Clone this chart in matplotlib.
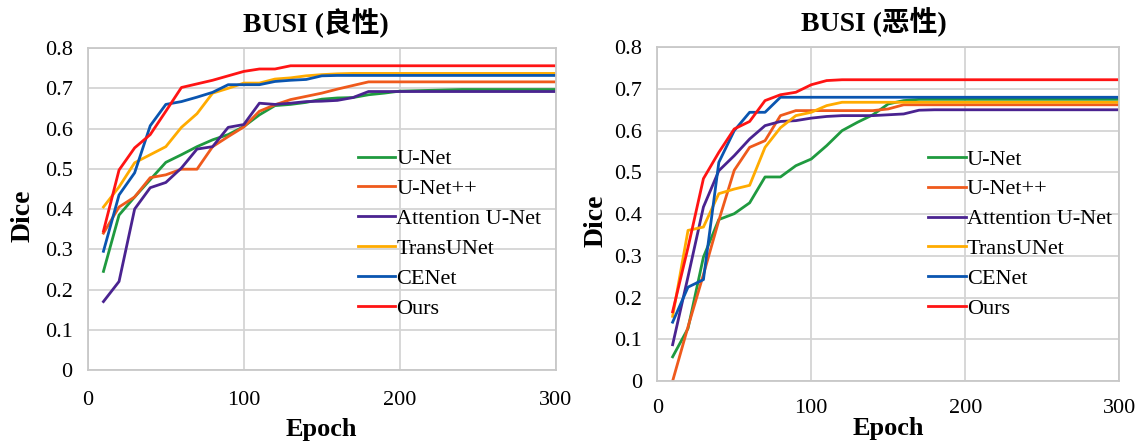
#Plot the Dice curves of the six models on BUSI benign and malignant data

import numpy as np
import matplotlib
matplotlib.use('Agg')
import matplotlib.pyplot as plt

plt.rcParams['font.family'] = ['Liberation Serif', 'Noto Sans CJK SC']

epochs = np.arange(10, 301, 10)
models = ['U-Net', 'U-Net++', 'Attention U-Net', 'TransUNet', 'CENet', 'Ours']
colors = ['#1f9a3f', '#ef5a1c', '#4a2390', '#ffab00', '#0a55b0', '#ff1414']
titles = ['BUSI (良性)', 'BUSI (恶性)']

# benign
benign_unet = [0.245, 0.385, 0.43, 0.473, 0.516, 0.535, 0.555, 0.572, 0.585, 0.605,
               0.634, 0.657, 0.66, 0.665, 0.673, 0.676, 0.677, 0.684, 0.688, 0.693,
               0.694, 0.695, 0.696, 0.697, 0.697, 0.697, 0.697, 0.697, 0.697, 0.697]
benign_unetpp = [0.34, 0.405, 0.43, 0.478, 0.485, 0.499, 0.499, 0.555, 0.58, 0.604,
                 0.643, 0.659, 0.672, 0.68, 0.688, 0.698, 0.707, 0.716, 0.716, 0.716,
                 0.716, 0.716, 0.716, 0.716, 0.716, 0.716, 0.716, 0.716, 0.716, 0.716]
benign_att = [0.17, 0.22, 0.40, 0.453, 0.466, 0.502, 0.549, 0.555, 0.603, 0.61,
              0.663, 0.66, 0.663, 0.667, 0.668, 0.67, 0.677, 0.692, 0.692, 0.692,
              0.692, 0.692, 0.692, 0.692, 0.692, 0.692, 0.692, 0.692, 0.692, 0.692]
benign_trans = [0.405, 0.455, 0.515, 0.535, 0.555, 0.603, 0.637, 0.688, 0.70, 0.713,
                0.713, 0.723, 0.726, 0.731, 0.734, 0.736, 0.737, 0.737, 0.737, 0.737,
                0.737, 0.737, 0.737, 0.737, 0.737, 0.737, 0.737, 0.737, 0.737, 0.737]
benign_cenet = [0.295, 0.435, 0.49, 0.607, 0.66, 0.667, 0.678, 0.69, 0.709, 0.709,
                0.709, 0.717, 0.72, 0.722, 0.731, 0.732, 0.732, 0.732, 0.732, 0.732,
                0.732, 0.732, 0.732, 0.732, 0.732, 0.732, 0.732, 0.732, 0.732, 0.732]
benign_ours = [0.345, 0.497, 0.552, 0.585, 0.643, 0.702, 0.711, 0.72, 0.731, 0.742,
               0.748, 0.748, 0.756, 0.756, 0.756, 0.756, 0.756, 0.756, 0.756, 0.756,
               0.756, 0.756, 0.756, 0.756, 0.756, 0.756, 0.756, 0.756, 0.756, 0.756]

# malignant
malig_unet = [0.058, 0.126, 0.297, 0.387, 0.401, 0.427, 0.489, 0.489, 0.516, 0.532,
              0.564, 0.60, 0.62, 0.638, 0.664, 0.672, 0.675, 0.675, 0.675, 0.675,
              0.675, 0.675, 0.675, 0.675, 0.675, 0.675, 0.675, 0.675, 0.675, 0.675]
malig_unetpp = [0.0, 0.13, 0.255, 0.385, 0.505, 0.56, 0.576, 0.636, 0.648, 0.648,
                0.648, 0.648, 0.648, 0.648, 0.652, 0.662, 0.662, 0.662, 0.662, 0.662,
                0.662, 0.662, 0.662, 0.662, 0.662, 0.662, 0.662, 0.662, 0.662, 0.662]
malig_att = [0.087, 0.25, 0.417, 0.504, 0.54, 0.58, 0.612, 0.622, 0.624, 0.63,
             0.634, 0.636, 0.636, 0.636, 0.638, 0.64, 0.649, 0.65, 0.65, 0.65,
             0.65, 0.65, 0.65, 0.65, 0.65, 0.65, 0.65, 0.65, 0.65, 0.65]
malig_trans = [0.155, 0.361, 0.369, 0.449, 0.46, 0.469, 0.56, 0.607, 0.636, 0.644,
               0.66, 0.668, 0.668, 0.668, 0.668, 0.668, 0.668, 0.668, 0.668, 0.668,
               0.668, 0.668, 0.668, 0.668, 0.668, 0.668, 0.668, 0.668, 0.668, 0.668]
malig_cenet = [0.141, 0.225, 0.243, 0.524, 0.60, 0.644, 0.644, 0.68, 0.68, 0.68,
               0.68, 0.68, 0.68, 0.68, 0.68, 0.68, 0.68, 0.68, 0.68, 0.68,
               0.68, 0.68, 0.68, 0.68, 0.68, 0.68, 0.68, 0.68, 0.68, 0.68]
malig_ours = [0.166, 0.32, 0.485, 0.548, 0.604, 0.622, 0.672, 0.686, 0.692, 0.71,
              0.72, 0.722, 0.722, 0.722, 0.722, 0.722, 0.722, 0.722, 0.722, 0.722,
              0.722, 0.722, 0.722, 0.722, 0.722, 0.722, 0.722, 0.722, 0.722, 0.722]

benign = [benign_unet, benign_unetpp, benign_att, benign_trans, benign_cenet, benign_ours]
malig = [malig_unet, malig_unetpp, malig_att, malig_trans, malig_cenet, malig_ours]


def draw_panel(ax, curves, title, title_x, legend_anchor, xpad, xlabel_y, ylabel_x):
    '''
    Draw one panel of Dice curves with its grid, labels and legend.
    '''
    for name, vals, col in zip(models, curves, colors):
        ax.plot(epochs, vals, color=col, lw=2.0, label=name)

    ax.set_xlim(0, 300)
    ax.set_ylim(0, 0.8)
    ax.set_xticks([0, 100, 200, 300])
    ax.set_yticks(np.arange(0, 0.81, 0.1))
    ax.set_yticklabels(['0'] + ['%.1f' % v for v in np.arange(0.1, 0.81, 0.1)])
    ax.tick_params(length=0, labelsize=16)
    ax.tick_params(axis='x', pad=xpad)
    ax.tick_params(axis='y', pad=11)
    ax.grid(True, color='#d4d4d4', lw=1.3)
    ax.set_axisbelow(True)
    for sp in ax.spines.values():
        sp.set_color('#c8c8c8')
        sp.set_linewidth(1.3)

    ax.set_title(title, fontsize=20, fontweight='bold', x=title_x, pad=12)
    ax.set_xlabel('Epoch', fontsize=19, fontweight='bold', va='center')
    ax.xaxis.set_label_coords(0.5, xlabel_y)
    ax.set_ylabel('Dice', fontsize=20, fontweight='bold', va='center')
    ax.yaxis.set_label_coords(ylabel_x, 0.48)

    ax.legend(loc='upper left', bbox_to_anchor=legend_anchor, frameon=False,
              fontsize=16, handlelength=1.68, handletextpad=0.05,
              labelspacing=0.42, borderpad=0, borderaxespad=0)


fig = plt.figure(figsize=(11.41, 4.41), dpi=100)
ax1 = fig.add_axes([0.077, 0.161, 0.41, 0.73])
ax2 = fig.add_axes([0.576, 0.136, 0.405, 0.757])

draw_panel(ax1, benign, titles[0], 0.487, (0.577, 0.687), 15, -0.186, -0.138)
draw_panel(ax2, malig, titles[1], 0.468, (0.587, 0.695), 13, -0.141, -0.132)

fig.savefig('out.png', dpi=100)
